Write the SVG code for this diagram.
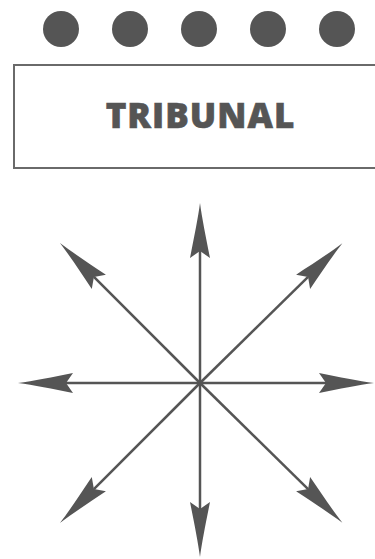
<svg xmlns="http://www.w3.org/2000/svg" width="375" height="559" viewBox="0 0 375 559">
<style>
.dot{fill:#555}
.box{fill:#fff;stroke:#6a6a6a;stroke-width:2}
.lbl{font-family:"Open Sans","Liberation Sans",sans-serif;font-weight:800;font-size:35px;letter-spacing:1px;fill:#555;stroke:#555;stroke-width:0.6;text-anchor:middle}
.ray{stroke:#555;stroke-width:2.5;fill:none;marker-end:url(#head)}
</style>
<defs>
<marker id="head" markerUnits="userSpaceOnUse" viewBox="-8 -12 60 24" markerWidth="60" markerHeight="24" refX="0" refY="0" orient="auto" overflow="visible">
<path d="M48,0 C33,-2 13,-6 -7,-10 L0,0 L-7,10 C13,6 33,2 48,0 Z" fill="#555"/>
</marker>
</defs>
<rect width="375" height="559" fill="#fff"/>
<g id="dots">
<circle class="dot" cx="61" cy="29" r="18"/>
<circle class="dot" cx="130" cy="29" r="18"/>
<circle class="dot" cx="199" cy="29" r="18"/>
<circle class="dot" cx="268" cy="29" r="18"/>
<circle class="dot" cx="337" cy="29" r="18"/>
</g>
<g id="tribunal">
<rect class="box" x="14" y="65" width="380" height="103"/>
<text class="lbl" x="200.5" y="127.5">TRIBUNAL</text>
</g>
<g id="connectors">
<line class="ray" x1="200" y1="383" x2="200" y2="251"/>
<line class="ray" x1="200" y1="383" x2="200" y2="509"/>
<line class="ray" x1="200" y1="383" x2="66" y2="383"/>
<line class="ray" x1="200" y1="383" x2="326" y2="383"/>
<line class="ray" x1="200" y1="383" x2="93.9" y2="276.9"/>
<line class="ray" x1="200" y1="383" x2="308.1" y2="276.9"/>
<line class="ray" x1="200" y1="383" x2="93.9" y2="489.1"/>
<line class="ray" x1="200" y1="383" x2="308.1" y2="489.1"/>
</g>
</svg>
